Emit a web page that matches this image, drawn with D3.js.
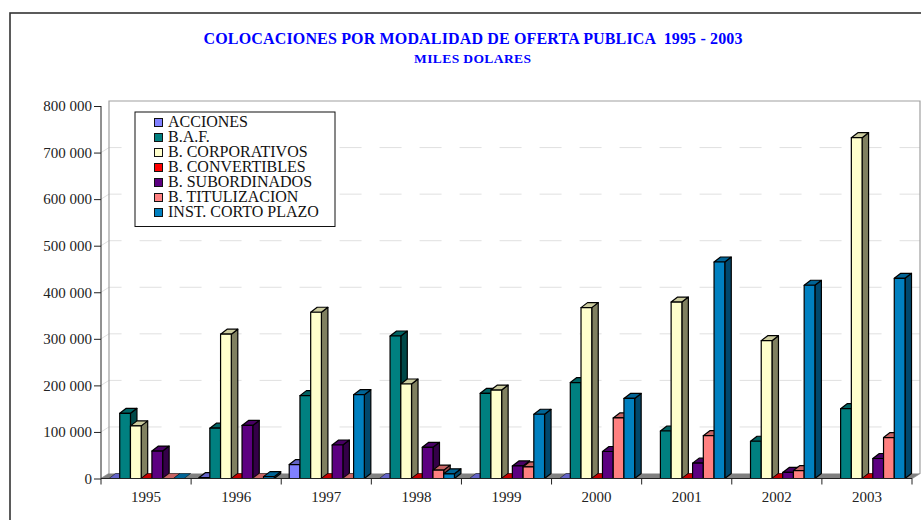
<!DOCTYPE html>
<html><head><meta charset="utf-8">
<script src="https://cdnjs.cloudflare.com/ajax/libs/d3/7.8.5/d3.min.js"></script>
<style>html,body{margin:0;padding:0;background:#fff}svg{display:block}text{font-family:"Liberation Serif",serif}</style>
</head><body><svg id="c" width="921" height="520"></svg>
<script>
const years=["1995","1996","1997","1998","1999","2000","2001","2002","2003"];
const seriesNames=["ACCIONES","B.A.F.","B. CORPORATIVOS","B. CONVERTIBLES","B. SUBORDINADOS","B. TITULIZACION","INST. CORTO PLAZO"];
const colors=["#8080ff","#008080","#ffffcc","#ff0000","#5c0080","#ff8080","#0080c0"];
const acciones=[0,2000,30000,0,0,0,null,null,null];
const baf=[140000,108000,178000,306000,183000,206000,102000,80000,150000];
const corporativos=[113000,310000,357000,203000,190000,367000,379000,296000,732000];
const convertibles=[0,0,0,0,0,0,0,0,0];
const subordinados=[59000,114000,72000,67000,27000,58000,33000,13000,43000];
const titulizacion=[0,0,0,18000,25000,130000,92000,17000,88000];
const cortoPlazo=[0,4000,180000,10000,138000,172000,465000,415000,430000];
const seriesValues=[acciones,baf,corporativos,convertibles,subordinados,titulizacion,cortoPlazo];
const yTicks=[0,100000,200000,300000,400000,500000,600000,700000,800000];

const svg=d3.select("#c");
const x0=d3.scaleBand().domain(years).range([101,912]);
const x1=d3.scaleBand().domain(d3.range(7)).range([8,x0.bandwidth()-7]);
const y=d3.scaleLinear().domain([0,800000]).range([478.5,106]);
const fmt=v=>d3.format(",")(v).replace(/,/g," ");
const backDx=8,backDy=-5,barDx=6.5,barDy=-5;

svg.append("rect").attr("x",10).attr("y",13).attr("width",920).attr("height",520).attr("fill","#fff").attr("stroke","#333").attr("stroke-width",1.6);

// walls
const xL=x0.range()[0],xR=x0.range()[1],yB=y(0),yT=y(800000);
const g=svg.append("g");
g.selectAll(".grid").data(yTicks.slice(1,-1)).join("path")
 .attr("d",d=>`M${xL},${y(d)}L${xL+backDx},${y(d)+backDy}L${xR+backDx},${y(d)+backDy}`)
 .attr("fill","none").attr("stroke","#e0e0e0").attr("stroke-width",1).attr("stroke-dasharray","22 18");
g.append("path").attr("d",`M${xL},${yB}L${xL+backDx},${yB+backDy}L${xL+backDx},${yT+backDy}L${xR+backDx},${yT+backDy}L${xR+backDx},${yB+backDy}L${xR},${yB}`).attr("fill","none").attr("stroke","#a0a0a0").attr("stroke-width",1.2);
g.append("path").attr("d",`M${xL},${yB}L${xL+backDx},${yB+backDy}L${xR+backDx},${yB+backDy}L${xR},${yB}Z`).attr("fill","#808080");

// axes
const yAxis=d3.axisLeft(y).tickValues(yTicks).tickFormat(fmt).tickSize(7).tickPadding(2);
const ga=svg.append("g").attr("transform",`translate(${xL},0)`).call(yAxis);
ga.select(".domain").attr("stroke","#222").attr("d",`M0,${yT}V${yB}`);
ga.selectAll("line").attr("stroke","#222");
ga.selectAll("text").attr("font-size",15).attr("fill","#222");

// bars
years.forEach((yr,i)=>{
 seriesValues.forEach((vals,s)=>{
  const v=vals[i];
  if(v===null) return;
  const bx=x0(yr)+x1(s),w=x1.bandwidth(),ty=y(v),by=y(0);
  const side=s===2?"#808060":d3.rgb(colors[s]).darker(1.6).formatHex();
  const top=s===2?"#cccc9f":d3.rgb(colors[s]).darker(.7).formatHex();
  const b=svg.append("g").attr("stroke","#000").attr("stroke-width",v===0?0.5:1.2).attr("stroke-linejoin","round");
  if(v>0) b.append("path").attr("d",`M${bx+w},${by}L${bx+w+barDx},${by+barDy}L${bx+w+barDx},${ty+barDy}L${bx+w},${ty}Z`).attr("fill",side);
  b.append("path").attr("d",`M${bx},${ty}L${bx+barDx},${ty+barDy}L${bx+w+barDx},${ty+barDy}L${bx+w},${ty}Z`).attr("fill",top);
  if(v>0) b.append("rect").attr("x",bx).attr("y",ty).attr("width",w).attr("height",by-ty).attr("fill",colors[s]);
 });
});

// baseline and x axis on top
const xAxis=d3.axisBottom(x0).tickSize(0).tickPadding(13);
const gx=svg.append("g").attr("transform",`translate(0,${yB})`).call(xAxis);
gx.select(".domain").attr("stroke","#222").attr("stroke-width",1.2).attr("d",`M${xL},0H${xR}`);
gx.selectAll("text").attr("font-size",15).attr("fill","#222");
gx.selectAll(".sep").data(d3.range(10)).join("line").attr("x1",d=>xL+d*x0.step()).attr("x2",d=>xL+d*x0.step()).attr("y1",0).attr("y2",6).attr("stroke","#222");

// legend
const lg=svg.append("g");
lg.append("rect").attr("x",135).attr("y",112).attr("width",200).attr("height",114.5).attr("fill","#fff").attr("stroke","#111");
const ly=d3.scalePoint().domain(seriesNames).range([122,212]);
seriesNames.forEach((n,i)=>{
 lg.append("rect").attr("x",154.5).attr("y",ly(n)-3.5).attr("width",8).attr("height",8).attr("fill",colors[i]).attr("stroke","#111");
 lg.append("text").attr("x",168).attr("y",ly(n)+5).attr("font-size",16).attr("fill","#111").text(n);
});

// titles
svg.append("text").attr("x",473).attr("y",43.5).attr("text-anchor","middle").attr("font-size",16).attr("font-weight","bold").attr("fill","#0000ff").attr("textLength",539).attr("xml:space","preserve").text("COLOCACIONES POR MODALIDAD DE OFERTA PUBLICA  1995 - 2003");
svg.append("text").attr("x",472.5).attr("y",63).attr("text-anchor","middle").attr("font-size",13.5).attr("font-weight","bold").attr("fill","#0000ff").attr("textLength",117).text("MILES DOLARES");
</script></body></html>
